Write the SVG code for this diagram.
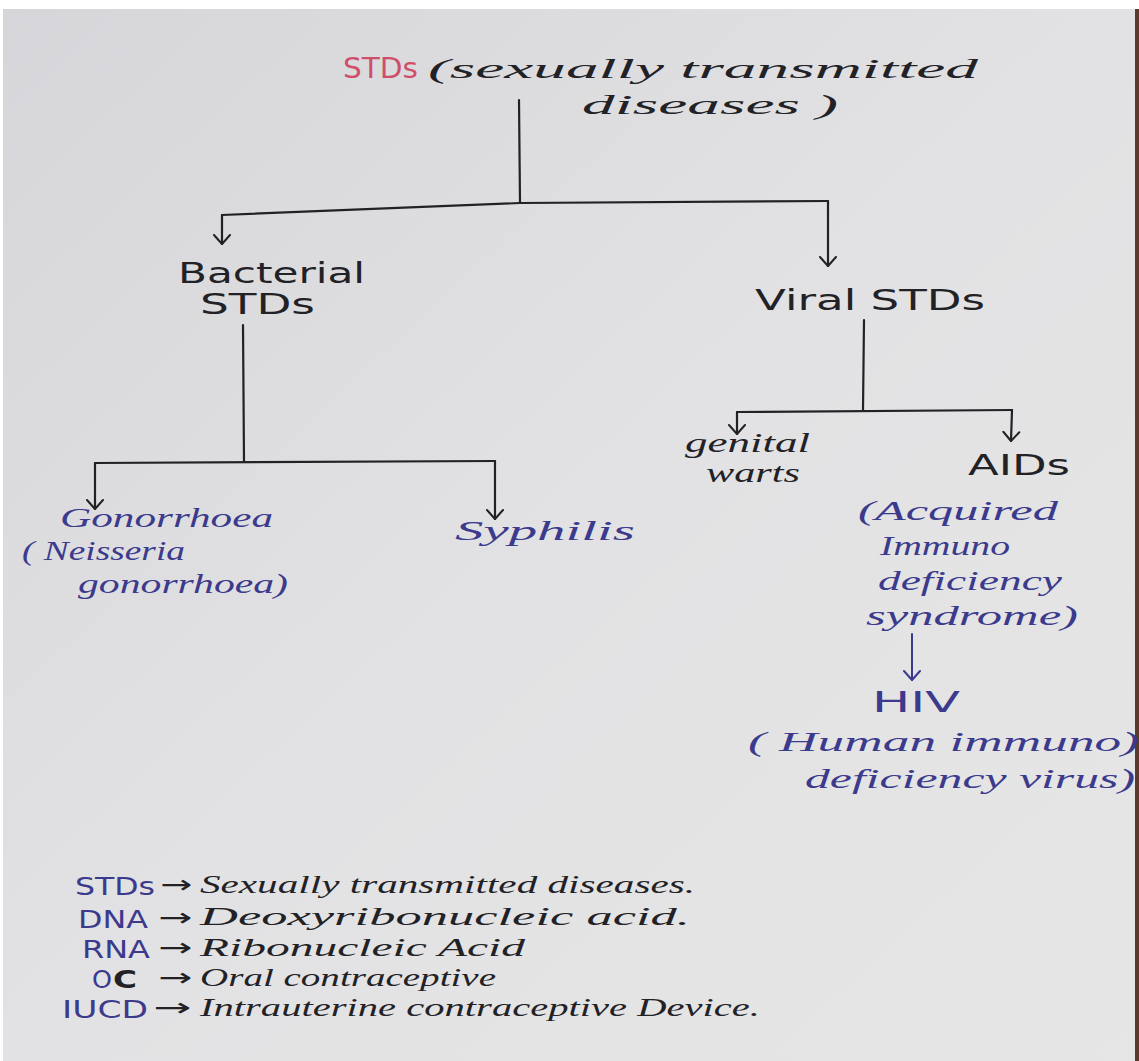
<svg xmlns="http://www.w3.org/2000/svg" width="1139" height="1061" viewBox="0 0 1139 1061">
  <defs>
    <linearGradient id="paper" x1="0" y1="0" x2="1" y2="1">
      <stop offset="0" stop-color="#d6d6da"/>
      <stop offset="0.5" stop-color="#e2e2e4"/>
      <stop offset="1" stop-color="#e6e6e6"/>
    </linearGradient>
    <marker id="head" viewBox="0 0 20 20" refX="10" refY="10" markerWidth="20" markerHeight="20" markerUnits="userSpaceOnUse" orient="auto">
      <path d="M1,2 L10,10 L1,18" fill="none" stroke="#222" stroke-width="2" stroke-linecap="round" stroke-linejoin="round"/>
    </marker>
    <marker id="headBlue" viewBox="0 0 20 20" refX="10" refY="10" markerWidth="20" markerHeight="20" markerUnits="userSpaceOnUse" orient="auto">
      <path d="M1,2 L10,10 L1,18" fill="none" stroke="#3b3a8c" stroke-width="2" stroke-linecap="round" stroke-linejoin="round"/>
    </marker>
  </defs>
  <style>
    text { font-family: "DejaVu Sans", "Liberation Sans", sans-serif; font-size: 28px; }
    .ink { fill: #222226; }
    .blue { fill: #3b3a8c; }
    .red { fill: #cf4f6a; }
    .script { font-style: italic; font-family: "Liberation Serif", "DejaVu Serif", serif; }
    .line { fill: none; stroke: #222226; stroke-width: 2.2; stroke-linecap: round; }
    .arrow { fill: none; stroke: #222226; stroke-width: 2.2; stroke-linecap: round; marker-end: url(#head); }
    .arrowB { fill: none; stroke: #3b3a8c; stroke-width: 2; stroke-linecap: round; marker-end: url(#headBlue); }
    .legend text { font-size: 25px; }
  </style>

  <!-- photographed sheet -->
  <rect x="0" y="0" width="1139" height="1061" fill="#ffffff"/>
  <rect x="3" y="9" width="1136" height="1052" fill="url(#paper)"/>
  <rect x="1135" y="9" width="4" height="1052" fill="#5a3a2a"/>

  <!-- connectors -->
  <g id="connectors">
    <path class="line" d="M519,100 L520,203"/>
    <path class="line" d="M222,215 L520,203 L828,201"/>
    <path class="arrow" d="M222,215 L222,244"/>
    <path class="arrow" d="M828,201 L828,266"/>
    <path class="line" d="M243,325 L244,462"/>
    <path class="line" d="M95,463 L495,461"/>
    <path class="arrow" d="M95,463 L95,509"/>
    <path class="arrow" d="M495,461 L495,519"/>
    <path class="line" d="M864,320 L863,410"/>
    <path class="line" d="M737,412 L1012,410"/>
    <path class="arrow" d="M737,412 L737,434"/>
    <path class="arrow" d="M1012,410 L1011,441"/>
    <path class="arrowB" d="M912,634 L912,680"/>
  </g>

  <!-- root -->
  <g id="node-std">
    <text class="red" x="343" y="78" font-size="26" textLength="75" lengthAdjust="spacingAndGlyphs">STDs</text>
    <text class="ink script" x="428" y="78" font-size="32" textLength="550" lengthAdjust="spacingAndGlyphs">(sexually transmitted</text>
    <text class="ink script" x="582" y="114" font-size="32" textLength="256" lengthAdjust="spacingAndGlyphs">diseases )</text>
  </g>

  <g id="node-bacterial">
    <text class="ink" x="178" y="283" font-size="25" textLength="187" lengthAdjust="spacingAndGlyphs">Bacterial</text>
    <text class="ink" x="200" y="314" font-size="25" textLength="115" lengthAdjust="spacingAndGlyphs">STDs</text>
  </g>

  <g id="node-viral">
    <text class="ink" x="755" y="310" textLength="230" lengthAdjust="spacingAndGlyphs">Viral STDs</text>
  </g>

  <g id="node-gonorrhoea">
    <text class="blue script" x="60" y="527" font-size="28" textLength="213" lengthAdjust="spacingAndGlyphs">Gonorrhoea</text>
    <text class="blue script" x="22" y="560" font-size="28" textLength="163" lengthAdjust="spacingAndGlyphs">( Neisseria</text>
    <text class="blue script" x="78" y="593" font-size="28" textLength="210" lengthAdjust="spacingAndGlyphs">gonorrhoea)</text>
  </g>

  <g id="node-syphilis">
    <text class="blue script" x="455" y="540" font-size="32" textLength="180" lengthAdjust="spacingAndGlyphs">Syphilis</text>
  </g>

  <g id="node-warts">
    <text class="ink script" x="685" y="452" font-size="21" textLength="125" lengthAdjust="spacingAndGlyphs">genital</text>
    <text class="ink script" x="706" y="482" font-size="21" textLength="94" lengthAdjust="spacingAndGlyphs">warts</text>
  </g>

  <g id="node-aids">
    <text class="ink" x="968" y="475" font-size="28" textLength="102" lengthAdjust="spacingAndGlyphs">AIDs</text>
    <text class="blue script" x="858" y="520" font-size="29" textLength="200" lengthAdjust="spacingAndGlyphs">(Acquired</text>
    <text class="blue script" x="880" y="555" font-size="29" textLength="130" lengthAdjust="spacingAndGlyphs">Immuno</text>
    <text class="blue script" x="878" y="590" font-size="29" textLength="184" lengthAdjust="spacingAndGlyphs">deficiency</text>
    <text class="blue script" x="866" y="625" font-size="29" textLength="212" lengthAdjust="spacingAndGlyphs">syndrome)</text>
  </g>

  <g id="node-hiv">
    <text class="blue" x="872" y="712" font-size="28" textLength="88" lengthAdjust="spacingAndGlyphs">HIV</text>
    <text class="blue script" x="748" y="751" font-size="31" textLength="391" lengthAdjust="spacingAndGlyphs">( Human immuno)</text>
    <text class="blue script" x="805" y="788" font-size="31" textLength="330" lengthAdjust="spacingAndGlyphs">deficiency virus)</text>
  </g>

  <!-- abbreviations -->
  <g id="legend" class="legend">
    <text class="blue" x="75" y="895" textLength="80" lengthAdjust="spacingAndGlyphs">STDs</text>
    <text class="ink" x="160" y="893" textLength="32" lengthAdjust="spacingAndGlyphs">→</text>
    <text class="ink script" x="200" y="893" textLength="495" lengthAdjust="spacingAndGlyphs">Sexually transmitted diseases.</text>

    <text class="blue" x="78" y="928" textLength="70" lengthAdjust="spacingAndGlyphs">DNA</text>
    <text class="ink" x="158" y="926" textLength="34" lengthAdjust="spacingAndGlyphs">→</text>
    <text class="ink script" x="200" y="925" textLength="490" lengthAdjust="spacingAndGlyphs">Deoxyribonucleic acid.</text>

    <text class="blue" x="82" y="958" textLength="68" lengthAdjust="spacingAndGlyphs">RNA</text>
    <text class="ink" x="158" y="956" textLength="34" lengthAdjust="spacingAndGlyphs">→</text>
    <text class="ink script" x="200" y="956" textLength="325" lengthAdjust="spacingAndGlyphs">Ribonucleic Acid</text>

    <text class="blue" x="92" y="988" textLength="20" lengthAdjust="spacingAndGlyphs">O</text>
    <text class="ink" x="113" y="988" font-weight="bold" textLength="24" lengthAdjust="spacingAndGlyphs">C</text>
    <text class="ink" x="158" y="986" textLength="34" lengthAdjust="spacingAndGlyphs">→</text>
    <text class="ink script" x="200" y="986" textLength="296" lengthAdjust="spacingAndGlyphs">Oral contraceptive</text>

    <text class="blue" x="62" y="1018" textLength="86" lengthAdjust="spacingAndGlyphs">IUCD</text>
    <text class="ink" x="153" y="1016" textLength="38" lengthAdjust="spacingAndGlyphs">→</text>
    <text class="ink script" x="200" y="1016" textLength="560" lengthAdjust="spacingAndGlyphs">Intrauterine contraceptive Device.</text>
  </g>
</svg>
